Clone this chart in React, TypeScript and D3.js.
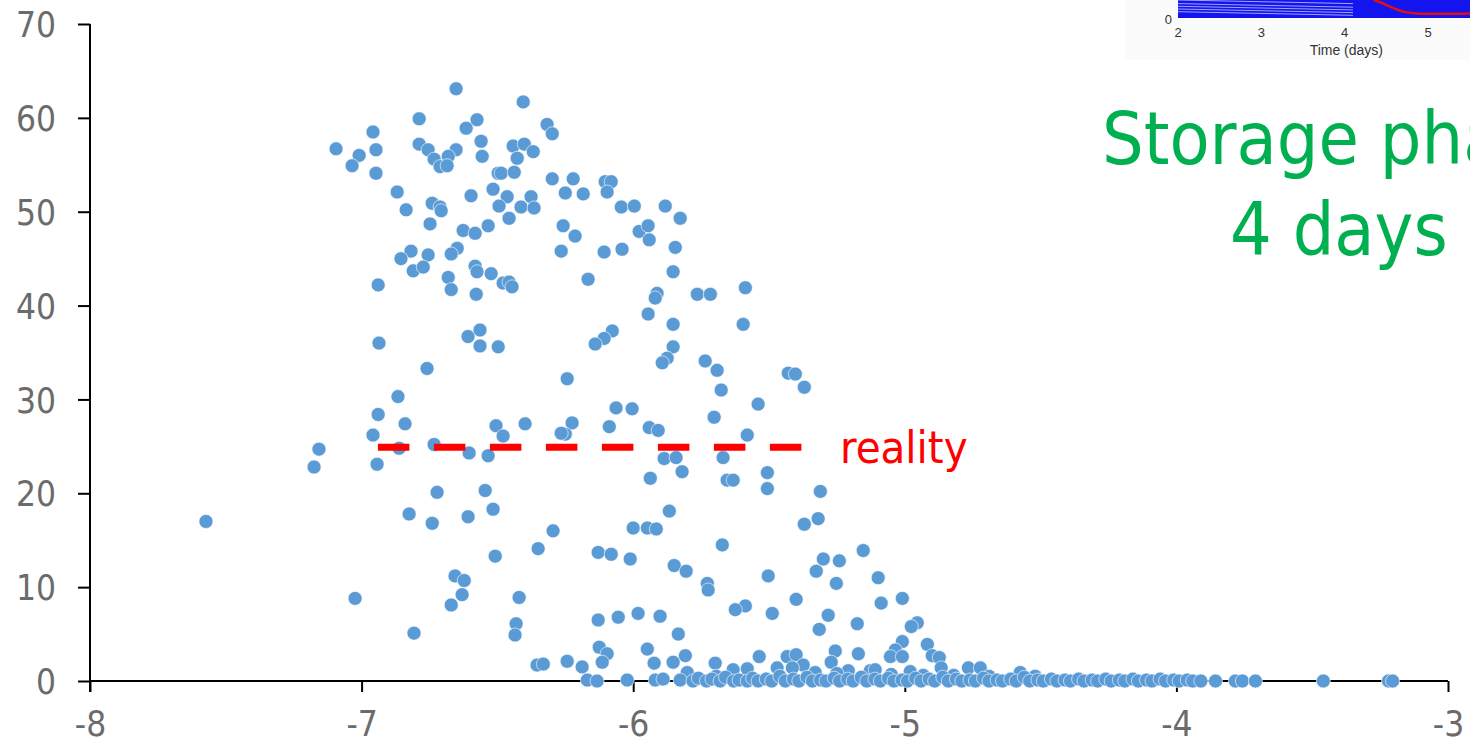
import React, { useEffect, useRef } from 'react';
import * as d3 from 'd3';

// scatter points, [log x, value]
const upperCloud: [number, number][] = [
  [-6.652, 63.1], [-6.405, 61.7], [-6.788, 59.9], [-6.575, 59.8], [-6.317, 59.3], [-6.615, 58.9],
  [-6.958, 58.5], [-6.298, 58.3], [-6.56, 57.5], [-6.788, 57.2], [-6.442, 57.0], [-6.401, 57.2],
  [-6.368, 56.4], [-7.094, 56.7], [-6.947, 56.6], [-6.755, 56.6], [-6.652, 56.6], [-7.009, 56.0],
  [-6.733, 55.6], [-6.681, 55.9], [-6.711, 54.8], [-6.685, 54.9], [-6.556, 55.9], [-6.427, 55.7],
  [-7.035, 54.9], [-6.947, 54.1], [-6.497, 54.1], [-6.486, 54.1], [-6.438, 54.2], [-6.298, 53.5],
  [-6.221, 53.5], [-6.103, 53.2], [-6.081, 53.2], [-6.096, 52.1], [-6.869, 52.1], [-6.516, 52.4],
  [-6.25, 52.0], [-6.184, 51.9], [-6.464, 51.6], [-6.376, 51.6], [-6.597, 51.7], [-6.74, 50.9],
  [-6.711, 50.5], [-6.707, 50.1], [-6.836, 50.2], [-6.494, 50.6], [-6.413, 50.5], [-6.365, 50.4],
  [-6.044, 50.5], [-5.996, 50.6], [-5.882, 50.6], [-6.457, 49.3], [-5.827, 49.3], [-6.748, 48.7],
  [-6.626, 48.0], [-6.582, 47.7], [-6.534, 48.5], [-6.258, 48.5], [-6.214, 47.4], [-5.978, 47.9],
  [-5.945, 48.5], [-5.941, 47.0], [-6.265, 45.8], [-6.107, 45.7], [-6.041, 46.0], [-5.845, 46.2],
  [-6.818, 45.8], [-6.755, 45.4], [-6.855, 45.0], [-6.648, 46.1], [-6.67, 45.5], [-6.81, 43.7],
  [-6.773, 44.1], [-6.681, 43.0], [-6.582, 44.2], [-6.575, 43.6], [-6.523, 43.4], [-6.479, 42.4],
  [-6.457, 42.5], [-6.446, 42.0], [-6.939, 42.2], [-6.67, 41.7], [-6.578, 41.2], [-6.166, 42.8],
  [-5.853, 43.6], [-5.764, 41.2], [-5.716, 41.2], [-5.587, 41.9], [-5.912, 41.3], [-5.919, 40.8],
  [-5.945, 39.1], [-5.853, 38.0], [-5.595, 38.0], [-6.077, 37.3], [-6.107, 36.5], [-6.14, 35.9],
  [-5.853, 35.6], [-5.875, 34.4], [-5.893, 33.9], [-5.735, 34.1], [-5.691, 33.1], [-5.429, 32.8],
  [-5.403, 32.7], [-5.37, 31.3], [-5.676, 31.0], [-6.243, 32.2], [-6.936, 36.0], [-6.759, 33.3],
  [-6.608, 36.7], [-6.564, 37.4], [-6.564, 35.7], [-6.497, 35.6], [-6.866, 30.3],
];

const middleCloud: [number, number][] = [
  [-5.54, 29.5], [-6.063, 29.1], [-6.004, 29.0], [-5.702, 28.1], [-6.939, 28.4], [-6.84, 27.4],
  [-6.958, 26.2], [-6.225, 27.5], [-6.25, 26.3], [-6.088, 27.1], [-5.941, 27.0], [-5.908, 26.7],
  [-5.58, 26.2], [-6.505, 27.2], [-6.479, 26.1], [-6.398, 27.4], [-6.265, 26.4], [-7.157, 24.7],
  [-6.862, 24.8], [-6.733, 25.2], [-7.175, 22.8], [-6.943, 23.1], [-6.604, 24.3], [-6.534, 24.0],
  [-5.886, 23.7], [-5.842, 23.8], [-5.669, 23.8], [-5.82, 22.3], [-5.937, 21.6], [-5.654, 21.4],
  [-5.632, 21.4], [-5.506, 22.2], [-5.506, 20.5], [-5.311, 20.2], [-6.722, 20.1], [-6.545, 20.3],
  [-6.825, 17.8], [-6.74, 16.8], [-6.608, 17.5], [-6.516, 18.3], [-7.573, 17.0], [-6.295, 16.0],
  [-5.867, 18.1], [-6.0, 16.3], [-5.948, 16.3], [-5.915, 16.2], [-5.37, 16.7], [-5.319, 17.3],
  [-5.672, 14.5], [-6.35, 14.1], [-6.508, 13.3], [-6.129, 13.7], [-6.081, 13.5], [-6.011, 13.0],
  [-5.3, 13.0], [-5.241, 12.8], [-5.153, 13.9],
];

const lowerCloud: [number, number][] = [
  [-5.849, 12.3], [-5.805, 11.7], [-5.326, 11.7], [-5.503, 11.2], [-5.098, 11.0], [-6.656, 11.2],
  [-6.622, 10.7], [-5.727, 10.4], [-5.252, 10.4], [-5.724, 9.7], [-6.63, 9.2], [-7.024, 8.8],
  [-6.42, 8.9], [-5.4, 8.7], [-5.009, 8.8], [-5.087, 8.3], [-6.67, 8.1], [-5.587, 8.0],
  [-5.624, 7.6], [-5.982, 7.2], [-5.488, 7.2], [-6.129, 6.5], [-6.055, 6.8], [-5.901, 6.9],
  [-5.282, 7.0], [-4.954, 6.2], [-4.976, 5.8], [-6.431, 6.1], [-5.175, 6.1], [-5.315, 5.5],
  [-6.807, 5.1], [-6.435, 4.9], [-5.834, 5.0], [-5.009, 4.2], [-4.917, 3.9], [-6.125, 3.6],
  [-5.948, 3.4], [-5.256, 3.2], [-5.035, 3.3], [-6.096, 2.9], [-5.171, 2.9], [-5.808, 2.7],
  [-5.536, 2.6], [-5.433, 2.6], [-5.4, 2.8], [-5.053, 2.6], [-5.009, 2.6], [-4.899, 2.7],
  [-4.873, 2.5], [-6.243, 2.1], [-6.114, 2.0], [-5.853, 2.0], [-5.271, 2.0], [-6.354, 1.7],
  [-6.331, 1.8], [-5.923, 1.9], [-5.698, 1.9], [-5.374, 1.7], [-6.188, 1.5], [-4.866, 1.4],
  [-4.766, 1.4], [-4.722, 1.4], [-5.47, 1.4], [-5.414, 1.4], [-5.632, 1.2], [-5.58, 1.3],
  [-5.801, 0.9], [-5.208, 1.1], [-5.127, 1.1], [-5.109, 1.2], [-4.575, 0.9], [-4.932, 0.6],
  [-5.694, 0.5], [-6.169, 0.1], [-6.133, 0], [-6.022, 0.1], [-5.919, 0.1], [-5.89, 0.2],
  [-5.827, 0.1], [-5.33, 0.9], [-5.25, 0.8], [-5.05, 0.7], [-4.98, 1.0], [-4.82, 0.6],
  [-4.69, 0.5], [-4.52, 0.5],
];

const baseline: [number, number][] = [
  [-5.78, 0], [-5.76, 0.3], [-5.73, 0], [-5.71, 0.2], [-5.68, 0], [-5.66, 0.4], [-5.63, 0],
  [-5.61, 0.1], [-5.58, 0], [-5.56, 0.3], [-5.54, 0], [-5.51, 0.2], [-5.49, 0], [-5.46, 0.5],
  [-5.44, 0], [-5.41, 0.2], [-5.39, 0], [-5.36, 0.4], [-5.34, 0], [-5.31, 0.1], [-5.29, 0],
  [-5.26, 0.3], [-5.24, 0], [-5.21, 0.2], [-5.19, 0], [-5.16, 0.4], [-5.14, 0], [-5.11, 0.2],
  [-5.09, 0], [-5.06, 0.3], [-5.04, 0], [-5.01, 0.1], [-4.99, 0], [-4.96, 0.3], [-4.94, 0],
  [-4.91, 0.2], [-4.89, 0], [-4.86, 0.4], [-4.84, 0], [-4.81, 0.2], [-4.79, 0], [-4.76, 0.1],
  [-4.74, 0], [-4.71, 0.3], [-4.69, 0], [-4.66, 0.1], [-4.64, 0], [-4.61, 0.2], [-4.59, 0],
  [-4.56, 0.4], [-4.54, 0], [-4.51, 0.1], [-4.49, 0], [-4.46, 0.2], [-4.44, 0], [-4.41, 0.1],
  [-4.39, 0], [-4.36, 0.2], [-4.34, 0], [-4.31, 0.1], [-4.29, 0], [-4.26, 0.2], [-4.24, 0],
  [-4.21, 0.1], [-4.19, 0], [-4.16, 0.2], [-4.14, 0], [-4.11, 0.1], [-4.09, 0], [-4.06, 0.2],
  [-4.04, 0], [-4.01, 0.1], [-3.99, 0], [-3.96, 0.1], [-3.94, 0], [-3.91, 0],
  [-3.856, 0], [-3.783, 0], [-3.757, 0], [-3.709, 0], [-3.459, 0], [-3.219, 0], [-3.204, 0],
];

const xTicks = [-8, -7, -6, -5, -4, -3];
const yTicks = [0, 10, 20, 30, 40, 50, 60, 70];

const realityLevel = 24.9;
const realityRange = [-6.94, -5.378];

// bits of the cropped inset plot in the corner
const insetTicks = [2, 3, 4, 5];
const insetCurveDays = [4.35, 4.45, 4.55, 4.65, 4.75, 4.85, 5.0, 5.3, 5.7];
const insetCurveVals = [1.0, 0.85, 0.6, 0.42, 0.3, 0.25, 0.24, 0.24, 0.25];

const W = 1470;
const H = 747;
const dotColor = '#5B9BD5';
const font = "'DejaVu Sans Condensed', 'DejaVu Sans', sans-serif";

function App() {
  const ref = useRef<SVGSVGElement>(null);

  useEffect(() => {
    const svg = d3.select(ref.current);
    svg.selectAll('*').remove();

    const x = d3.scaleLinear().domain([-8, -3]).range([90, 1448]);
    const y = d3.scaleLinear().domain([0, 70]).range([681, 24]);

    // inset
    const ix = d3.scaleLinear().domain([2, 5]).range([1178, 1428]);
    const iy = d3.scaleLinear().domain([0, 1]).range([18, 0]);
    const inset = svg.append('g');
    inset.append('rect').attr('x', 1125).attr('y', 0).attr('width', 345).attr('height', 60).attr('fill', '#fbfbfb');
    inset.append('rect').attr('x', ix(2)).attr('y', 0).attr('width', W - ix(2)).attr('height', 18).attr('fill', '#1414ee');
    [0.15, 0.3, 0.45, 0.6, 0.8].forEach((v) => {
      inset.append('line')
        .attr('x1', ix(2)).attr('x2', ix(4.1))
        .attr('y1', iy(v + 0.2)).attr('y2', iy(v))
        .attr('stroke', '#c8c8ff').attr('stroke-width', 0.8);
    });
    inset.append('path')
      .attr('d', d3.line<number>().x((d, i) => ix(insetCurveDays[i])).y((d) => iy(d)).curve(d3.curveBasis)(insetCurveVals))
      .attr('fill', 'none').attr('stroke', '#e01010').attr('stroke-width', 2.5);
    inset.selectAll('text.it').data(insetTicks).enter().append('text')
      .attr('x', (d) => ix(d)).attr('y', 37).attr('text-anchor', 'middle')
      .attr('font-family', 'Liberation Sans, Arial, sans-serif').attr('font-size', 13).attr('fill', '#333')
      .text((d) => d);
    inset.append('text').attr('x', ix(2) - 6).attr('y', 24).attr('text-anchor', 'end')
      .attr('font-family', 'Liberation Sans, Arial, sans-serif').attr('font-size', 13).attr('fill', '#333').text('0');
    inset.append('text').attr('x', ix(4.02)).attr('y', 55).attr('text-anchor', 'middle')
      .attr('font-family', 'Liberation Sans, Arial, sans-serif').attr('font-size', 14).attr('fill', '#333').text('Time (days)');

    // axes
    const fmt = (d: d3.NumberValue) => String(d);
    const xAxis = d3.axisBottom(x).tickValues(xTicks).tickSize(11).tickPadding(12).tickFormat(fmt);
    const gx = svg.append('g').attr('transform', `translate(0,${y(0)})`).call(xAxis);
    const yAxis = d3.axisLeft(y).tickValues(yTicks).tickSize(12).tickPadding(22).tickFormat(fmt);
    const gy = svg.append('g').attr('transform', `translate(${x(-8)},0)`).call(yAxis);
    [gx, gy].forEach((g) => {
      g.select('.domain').attr('stroke', '#000').attr('stroke-width', 2);
      g.selectAll('.tick line').attr('stroke', '#000').attr('stroke-width', 2);
      g.selectAll('.tick text').attr('fill', '#6b6b6b').attr('font-size', 35).attr('font-family', font);
    });
    gx.select('.domain').attr('d', `M${x(-8)},0H${x(-3)}`);
    gy.select('.domain').attr('d', `M0,${y(70)}V${y(0) + 11}`);
    gy.selectAll('.tick text').attr('dy', '0.36em');
    gx.selectAll('.tick text').attr('dy', '0.9em');

    // points
    const all = [...upperCloud, ...middleCloud, ...lowerCloud, ...baseline];
    svg.append('g').selectAll('circle').data(all).enter().append('circle')
      .attr('cx', (d) => x(d[0])).attr('cy', (d) => y(d[1])).attr('r', 7)
      .attr('fill', dotColor).attr('stroke', '#ffffff').attr('stroke-width', 0.6);

    // reality line
    svg.append('line')
      .attr('x1', x(realityRange[0])).attr('x2', x(realityRange[1]))
      .attr('y1', y(realityLevel)).attr('y2', y(realityLevel))
      .attr('stroke', '#ff0000').attr('stroke-width', 7).attr('stroke-dasharray', '31.5 24.5');
    svg.append('text').attr('x', 840).attr('y', y(realityLevel) + 16)
      .attr('fill', '#ff0000').attr('font-size', 45).attr('font-family', font).text('reality');

    // annotation
    svg.append('text').attr('x', 1102).attr('y', 164)
      .attr('fill', '#00B050').attr('font-size', 73).attr('font-family', font).text('Storage phase');
    svg.append('text').attr('x', 1230).attr('y', 255)
      .attr('fill', '#00B050').attr('font-size', 73).attr('font-family', font).text('4 days');
  }, []);

  return (
    <svg ref={ref} width={W} height={H}
      style={{ position: 'absolute', left: 0, top: 0, background: '#fff', overflow: 'hidden' }} />
  );
}

export default App;
